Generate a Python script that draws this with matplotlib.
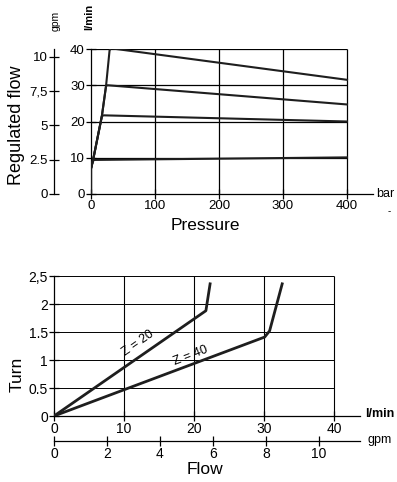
import matplotlib
matplotlib.use('Agg')
import matplotlib.pyplot as plt

# 上: 圧力 vs 流量 (l/min)
pressure_curves = {
    '40': ([0, 0, 3.5, 17, 23.5, 29, 31, 400], [0, 7, 9.6, 21.5, 29.8, 39.6, 40.2, 31.5]),
    '30': ([0, 0, 3.5, 17, 23.5, 26, 400], [0, 7, 9.6, 21.5, 29.8, 30.0, 24.7]),
    '20': ([0, 0, 3.5, 17, 20, 400], [0, 7, 9.6, 21.5, 21.7, 20.0]),
    '10': ([0, 0, 3, 6, 400], [0, 7, 9.2, 9.4, 10.1]),
}
p_ticks = [0, 100, 200, 300, 400]
q_ticks = [0, 10, 20, 30, 40]
gpm_ticks_top = [0, 2.5, 5, 7.5, 10]
gpm_labels_top = ['0', '2.5', '5', '7,5', '10']

# 下: 流量 vs 回転数
z20_flow = [0, 21.7, 22.3]
z20_turn = [0, 1.88, 2.36]
z40_flow = [0, 30.1, 30.8, 32.6]
z40_turn = [0, 1.41, 1.52, 2.36]
f_ticks = [0, 10, 20, 30, 40]
turn_ticks = [0, 0.5, 1, 1.5, 2, 2.5]
turn_labels = ['0', '0.5', '1', '1.5', '2', '2,5']
gpm_ticks_bot = [0, 2, 4, 6, 8, 10]

LPM_PER_GPM = 3.785
tick_font = ['Liberation Sans', 'DejaVu Sans']
label_font = ['Liberation Sans', 'DejaVu Sans']
lc = '#1e1e1e'

W, H = 397, 482
fig = plt.figure(figsize=(W / 100, H / 100), dpi=100)


def px(x, y):
    return x / W, 1 - y / H


# ---- 上のグラフ ----
ax = fig.add_axes([91 / W, 1 - 194 / H, 281.6 / W, 145 / H])
ax.set_xlim(0, 440)
ax.set_ylim(0, 40)
for s in ['top', 'right']:
    ax.spines[s].set_visible(False)
for s in ['left', 'bottom']:
    ax.spines[s].set_linewidth(0.9)
ax.hlines(q_ticks[1:], 0, 400, color='black', lw=0.9)
ax.vlines(p_ticks[1:], 0, 40, color='black', lw=0.9)
for k, (x, y) in pressure_curves.items():
    ax.plot(x, y, color=lc, lw=1.5, solid_joinstyle='round', zorder=3)
ax.set_xticks(p_ticks)
ax.set_yticks(q_ticks)
ax.tick_params(direction='inout', length=7, width=0.9, labelsize=9.5, pad=1)
for t in ax.get_xticklabels() + ax.get_yticklabels():
    t.set_family(tick_font)

sec = ax.secondary_yaxis(-0.131, functions=(lambda v: v / LPM_PER_GPM, lambda v: v * LPM_PER_GPM))
sec.set_yticks(gpm_ticks_top, labels=gpm_labels_top)
sec.spines['left'].set_linewidth(0.9)
sec.tick_params(direction='inout', length=7, width=0.9, labelsize=9.5, pad=1)
for t in sec.get_yticklabels():
    t.set_family(tick_font)

fig.text(*px(56, 31), 'gpm', rotation=90, ha='center', va='bottom', fontsize=7.5, family=tick_font)
fig.text(*px(89, 30), 'l/min', rotation=90, ha='center', va='bottom', fontsize=8,
         family=tick_font, fontweight='bold')
fig.text(*px(385, 194), 'bar', ha='center', va='center', fontsize=9, family=tick_font)
fig.text(*px(389, 211), '-', ha='center', va='center', fontsize=7, family=tick_font)
fig.text(*px(17, 125), 'Regulated flow', rotation=90, ha='center', va='center', fontsize=13,
         family=label_font)
fig.text(*px(205, 226), 'Pressure', ha='center', va='center', fontsize=12.5, family=label_font)

# ---- 下のグラフ ----
bx = fig.add_axes([54 / W, 1 - 416 / H, 306 / W, 140 / H])
bx.set_xlim(0, 306 / 7)
bx.set_ylim(0, 2.5)
for s in ['top', 'right']:
    bx.spines[s].set_visible(False)
for s in ['left', 'bottom']:
    bx.spines[s].set_linewidth(0.9)
bx.hlines(turn_ticks[1:], 0, 40, color='black', lw=0.7)
bx.vlines(f_ticks[1:], 0, 2.5, color='black', lw=0.8)
bx.plot(z20_flow, z20_turn, color=lc, lw=2, solid_joinstyle='round', zorder=3)
bx.plot(z40_flow, z40_turn, color=lc, lw=2, solid_joinstyle='round', zorder=3)
bx.set_xticks(f_ticks)
bx.set_yticks(turn_ticks, labels=turn_labels)
bx.tick_params(direction='inout', length=7, width=0.9, labelsize=10, pad=1)
for t in bx.get_xticklabels() + bx.get_yticklabels():
    t.set_family(tick_font)
bx.text(12.0, 1.3, 'Z = 20', rotation=35, ha='center', va='center', fontsize=9,
        family=tick_font, rotation_mode='anchor')
bx.text(19.5, 1.08, 'Z = 40', rotation=21, ha='center', va='center', fontsize=9,
        family=tick_font, rotation_mode='anchor')

sec2 = bx.secondary_xaxis(-0.179, functions=(lambda v: v / LPM_PER_GPM, lambda v: v * LPM_PER_GPM))
sec2.set_xticks(gpm_ticks_bot)
sec2.spines['bottom'].set_linewidth(0.9)
sec2.tick_params(direction='inout', length=7, width=0.9, labelsize=10, pad=1)
for t in sec2.get_xticklabels():
    t.set_family(tick_font)

fig.text(*px(380, 414), 'l/min', ha='center', va='center', fontsize=9, family=tick_font,
         fontweight='bold')
fig.text(*px(380, 440), 'gpm', ha='center', va='center', fontsize=9, family=tick_font)
fig.text(*px(17, 374), 'Turn', rotation=90, ha='center', va='center', fontsize=12.5,
         family=label_font)
fig.text(*px(205, 470), 'Flow', ha='center', va='center', fontsize=12.5, family=label_font)

fig.savefig('out.png', dpi=100)
